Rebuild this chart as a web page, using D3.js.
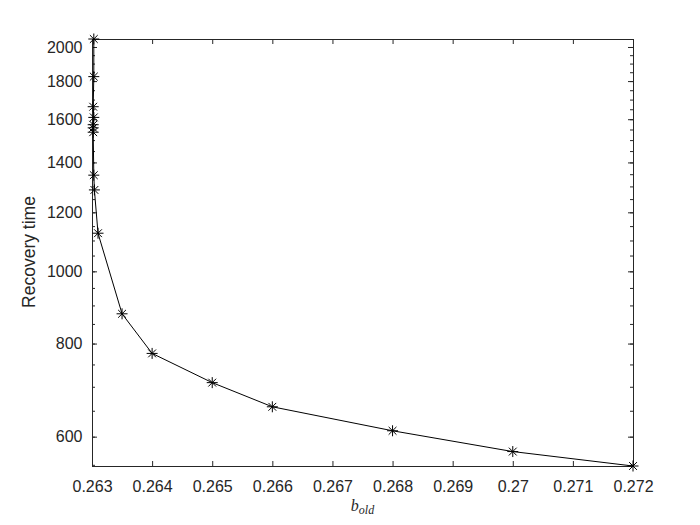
<!DOCTYPE html>
<html>
<head>
<meta charset="utf-8">
<script src="https://cdn.jsdelivr.net/npm/d3@7"></script>
<style>
  body { margin: 0; background: #fff; }
</style>
</head>
<body>
<div id="chart"></div>
<script>
// data
var bOld = [0.26303, 0.26303, 0.26302, 0.26303, 0.26302, 0.26302, 0.26302, 0.26303, 0.26304,
            0.2631, 0.2635, 0.264, 0.265, 0.266, 0.268, 0.27, 0.272];
var recoveryTime = [2050, 1825, 1663, 1609, 1573, 1558, 1537, 1346, 1286,
                    1125, 877, 776, 709, 658, 611, 573, 548];
var xTicks = [0.263, 0.264, 0.265, 0.266, 0.267, 0.268, 0.269, 0.27, 0.271, 0.272];
var yTicks = [600, 800, 1000, 1200, 1400, 1600, 1800, 2000];
var yMinorTicks = d3.range(550, 2051, 50);

var w = 700, h = 525;
var plotL = 92, plotR = 633, plotT = 39, plotB = 466;

var svg = d3.select("#chart")
            .append("svg")
            .attr("width", w)
            .attr("height", h);

var x = d3.scaleLinear().domain([0.263, 0.272]).range([plotL, plotR]);
var y = d3.scaleLog().domain([548, 2050]).range([plotB, plotT]);

var fmt = function(d) { return String(+d.toFixed(3)); };
var font = "'Liberation Sans', Arial, sans-serif";

// bottom and top axes (ticks point inward)
svg.append("g")
   .attr("transform", "translate(0," + plotB + ")")
   .call(d3.axisBottom(x).tickValues(xTicks).tickSizeInner(-5).tickSizeOuter(0).tickPadding(14.5).tickFormat(fmt))
   .call(function(g) {
     g.select(".domain").remove();
     g.selectAll("text").attr("font-family", font).attr("font-size", "16px").attr("fill", "#262626");
   });
svg.append("g")
   .attr("transform", "translate(0," + plotT + ")")
   .call(d3.axisTop(x).tickValues(xTicks).tickSizeInner(-5).tickSizeOuter(0).tickFormat(""))
   .call(function(g) { g.select(".domain").remove(); });

// left and right axes, minor ticks first
svg.append("g")
   .attr("transform", "translate(" + plotL + ",0)")
   .call(d3.axisLeft(y).tickValues(yMinorTicks).tickSizeInner(-3).tickSizeOuter(0).tickFormat(""))
   .call(function(g) { g.select(".domain").remove(); });
svg.append("g")
   .attr("transform", "translate(" + plotR + ",0)")
   .call(d3.axisRight(y).tickValues(yMinorTicks).tickSizeInner(-3).tickSizeOuter(0).tickFormat(""))
   .call(function(g) { g.select(".domain").remove(); });
svg.append("g")
   .attr("transform", "translate(" + plotL + ",0)")
   .call(d3.axisLeft(y).tickValues(yTicks).tickSizeInner(-5).tickSizeOuter(0).tickPadding(9.5).tickFormat(d3.format("d")))
   .call(function(g) {
     g.select(".domain").remove();
     g.selectAll("text").attr("font-family", font).attr("font-size", "16px").attr("fill", "#262626");
   });
svg.append("g")
   .attr("transform", "translate(" + plotR + ",0)")
   .call(d3.axisRight(y).tickValues(yTicks).tickSizeInner(-5).tickSizeOuter(0).tickFormat(""))
   .call(function(g) { g.select(".domain").remove(); });

svg.selectAll(".tick line").attr("stroke", "#262626");

// box
svg.append("rect")
   .attr("x", plotL + 0.5)
   .attr("y", plotT + 0.5)
   .attr("width", plotR - plotL)
   .attr("height", plotB - plotT)
   .attr("fill", "none")
   .attr("stroke", "#262626")
   .attr("stroke-width", 1);

// line
var pts = bOld.map(function(d, i) { return [d, recoveryTime[i]]; });
svg.append("path")
   .datum(pts)
   .attr("fill", "none")
   .attr("stroke", "#000")
   .attr("stroke-width", 1)
   .attr("d", d3.line().x(function(d) { return x(d[0]); }).y(function(d) { return y(d[1]); }));

// asterisk markers
var r = 5.5, rd = 3.9;
var star = "M" + (-r) + ",0H" + r + "M0," + (-r) + "V" + r +
           "M" + (-rd) + "," + (-rd) + "L" + rd + "," + rd +
           "M" + (-rd) + "," + rd + "L" + rd + "," + (-rd);
svg.selectAll("path.mark")
   .data(pts)
   .enter()
   .append("path")
   .attr("class", "mark")
   .attr("transform", function(d) { return "translate(" + x(d[0]) + "," + y(d[1]) + ")"; })
   .attr("d", star)
   .attr("fill", "none")
   .attr("stroke", "#000")
   .attr("stroke-width", 1);

// axis labels
svg.append("text")
   .attr("transform", "translate(35,252) rotate(-90)")
   .attr("text-anchor", "middle")
   .attr("font-family", font)
   .attr("font-size", "17.5px")
   .attr("fill", "#262626")
   .text("Recovery time");

var xl = svg.append("text")
   .attr("x", (plotL + plotR) / 2)
   .attr("y", 511)
   .attr("text-anchor", "middle")
   .attr("font-family", "'Liberation Serif', 'DejaVu Serif', serif")
   .attr("font-style", "italic")
   .attr("fill", "#262626");
xl.append("tspan").attr("font-size", "16px").text("b");
xl.append("tspan").attr("font-size", "12px").attr("dy", 3).text("old");
</script>
</body>
</html>
